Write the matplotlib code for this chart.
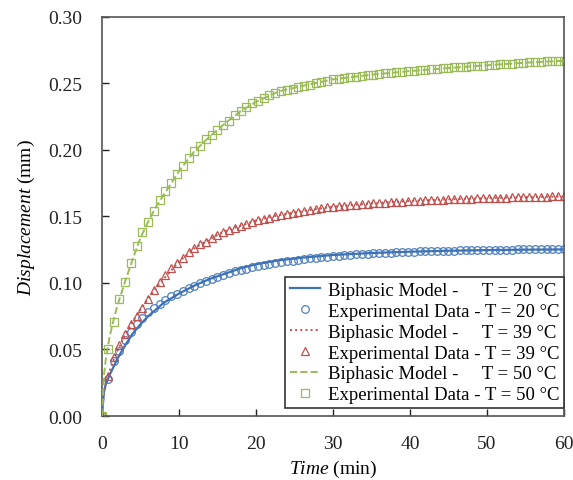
import numpy as np
import matplotlib
matplotlib.use("Agg")
import matplotlib.pyplot as plt

# Experimental sampling times (min)
t_exp = [i * 0.75 for i in range(81)]

exp_20 = [0, 0.028, 0.041, 0.049, 0.057, 0.063, 0.069, 0.074, 0.078, 0.0815, 0.0845, 0.0875, 0.090, 0.092, 0.094, 0.096,
          0.098, 0.100, 0.1017, 0.1033, 0.1048, 0.1062, 0.1075, 0.1087, 0.1098, 0.1108, 0.1117, 0.1126, 0.1134, 0.1142,
          0.1149, 0.1156, 0.1162, 0.1168, 0.1174, 0.1179, 0.1184, 0.1189, 0.1194, 0.1198, 0.1202, 0.1205, 0.1208, 0.1211,
          0.1214, 0.1217, 0.122, 0.1222, 0.1224, 0.1226, 0.1228, 0.123, 0.1232, 0.1234, 0.1236, 0.1237, 0.1238, 0.1239,
          0.124, 0.1241, 0.1242, 0.1243, 0.1244, 0.1245, 0.1246, 0.1247, 0.1248, 0.1249, 0.125, 0.125, 0.1251, 0.1251,
          0.1252, 0.1252, 0.1253, 0.1253, 0.1254, 0.1254, 0.1255, 0.1255, 0.1255]

exp_39 = [0, 0.030, 0.044, 0.053, 0.062, 0.069, 0.075, 0.081, 0.088, 0.095, 0.101, 0.106, 0.111, 0.115, 0.119, 0.123,
          0.126, 0.129, 0.131, 0.134, 0.136, 0.138, 0.140, 0.1415, 0.143, 0.1445, 0.146, 0.147, 0.148, 0.149, 0.150,
          0.151, 0.152, 0.1528, 0.1535, 0.1542, 0.155, 0.1556, 0.1562, 0.1568, 0.1573, 0.1577, 0.1581, 0.1585, 0.1589,
          0.1592, 0.1595, 0.1598, 0.1601, 0.1604, 0.1607, 0.161, 0.1612, 0.1614, 0.1616, 0.1618, 0.162, 0.1622, 0.1624,
          0.1626, 0.1628, 0.163, 0.1631, 0.1633, 0.1634, 0.1636, 0.1637, 0.1638, 0.164, 0.1641, 0.1642, 0.1643, 0.1644,
          0.1645, 0.1646, 0.1647, 0.1648, 0.1649, 0.165, 0.165, 0.165]

exp_50 = [0, 0.050, 0.071, 0.088, 0.101, 0.115, 0.128, 0.138, 0.146, 0.154, 0.162, 0.169, 0.175, 0.182, 0.188, 0.194,
          0.199, 0.203, 0.208, 0.211, 0.215, 0.219, 0.222, 0.226, 0.229, 0.232, 0.235, 0.237, 0.239, 0.241, 0.243,
          0.244, 0.245, 0.246, 0.247, 0.248, 0.249, 0.250, 0.251, 0.252, 0.253, 0.2535, 0.254, 0.2545, 0.255, 0.2555,
          0.256, 0.2565, 0.257, 0.2574, 0.2578, 0.2582, 0.2586, 0.259, 0.2594, 0.2598, 0.2602, 0.2606, 0.261, 0.2613,
          0.2616, 0.2619, 0.2622, 0.2625, 0.2628, 0.2631, 0.2634, 0.2637, 0.264, 0.2643, 0.2646, 0.2649, 0.2652,
          0.2655, 0.2658, 0.2661, 0.2663, 0.2665, 0.2667, 0.2669, 0.267]

# Biphasic model curves
t_mod = [0, 0.25, 0.5, 1, 1.5, 2, 3, 4, 5, 6, 7, 8, 10, 12, 14, 16, 18, 20, 23, 26, 30, 35, 40, 45, 50, 55, 60]
mod_20 = [0, 0.018, 0.024, 0.031, 0.037, 0.043, 0.053, 0.062, 0.069, 0.075, 0.080, 0.085, 0.092, 0.098, 0.103, 0.107,
          0.111, 0.114, 0.117, 0.119, 0.121, 0.1225, 0.1235, 0.1242, 0.1247, 0.125, 0.1252]
mod_39 = [0, 0.018, 0.025, 0.034, 0.042, 0.049, 0.061, 0.071, 0.080, 0.088, 0.096, 0.103, 0.116, 0.126, 0.133, 0.139,
          0.143, 0.147, 0.151, 0.154, 0.1573, 0.1598, 0.1616, 0.1628, 0.1638, 0.1645, 0.165]
mod_50 = [0, 0.030, 0.043, 0.060, 0.072, 0.083, 0.101, 0.118, 0.134, 0.146, 0.157, 0.166, 0.184, 0.199, 0.210, 0.220,
          0.229, 0.236, 0.244, 0.248, 0.253, 0.2565, 0.2592, 0.2615, 0.2636, 0.2655, 0.267]

x_ticks = [0, 10, 20, 30, 40, 50, 60]
y_ticks = [0.00, 0.05, 0.10, 0.15, 0.20, 0.25, 0.30]

plt.rcParams['font.family'] = ['Liberation Serif', 'DejaVu Serif']
plt.rcParams['mathtext.fontset'] = 'custom'
plt.rcParams['mathtext.rm'] = 'Liberation Serif'
plt.rcParams['mathtext.it'] = 'Liberation Serif:italic'

fig = plt.figure(figsize=(5.73, 4.81), dpi=100)
ax = fig.add_axes([0.178, 0.133, 0.806, 0.830])

c_blue = '#3f72b5'
c_red = '#c0504d'
c_green = '#9bbb59'

ax.plot(t_mod, mod_20, '-', color=c_blue, lw=1.6, label='Biphasic Model -     T = 20 °C', zorder=3)
ax.plot(t_exp, exp_20, 'o', mfc='none', mec='#4f81bd', ms=5.5, mew=0.9, label='Experimental Data - T = 20 °C', zorder=2)
ax.plot(t_mod, mod_39, ':', color=c_red, lw=1.4, label='Biphasic Model -     T = 39 °C', zorder=3)
ax.plot(t_exp, exp_39, '^', mfc='none', mec=c_red, ms=6, mew=0.9, label='Experimental Data - T = 39 °C', zorder=2)
ax.plot(t_mod, mod_50, '--', color=c_green, lw=1.4, label='Biphasic Model -     T = 50 °C', zorder=3)
ax.plot(t_exp, exp_50, 's', mfc='none', mec=c_green, ms=5.5, mew=0.9, label='Experimental Data - T = 50 °C', zorder=2)

ax.set_xlim(0, 60)
ax.set_ylim(0, 0.30)
ax.set_xticks(x_ticks)
ax.set_yticks(y_ticks)
ax.set_yticklabels([f'{v:.2f}' for v in y_ticks])
ax.tick_params(direction='in', length=5, width=1, labelsize=14, colors='#222222')
ax.tick_params(axis='y', pad=14)
ax.tick_params(axis='x', pad=14)
for s in ax.spines.values():
    s.set_color('#555555')
    s.set_linewidth(1.2)

ax.set_xlabel(r'$\mathit{Time}$ (min)', fontsize=14, labelpad=4)
ax.set_ylabel(r'$\mathit{Displacement}$ (mm)', fontsize=14, labelpad=8)

leg = ax.legend(loc='lower right', fontsize=13.5, frameon=True, fancybox=False, edgecolor='#333333',
                handlelength=1.6, handletextpad=0.4, labelspacing=0.2, borderpad=0.25,
                borderaxespad=0.0, bbox_to_anchor=(1.0, 0.02), framealpha=1)
leg.get_frame().set_linewidth(1.2)

fig.savefig('out.png', dpi=100)
